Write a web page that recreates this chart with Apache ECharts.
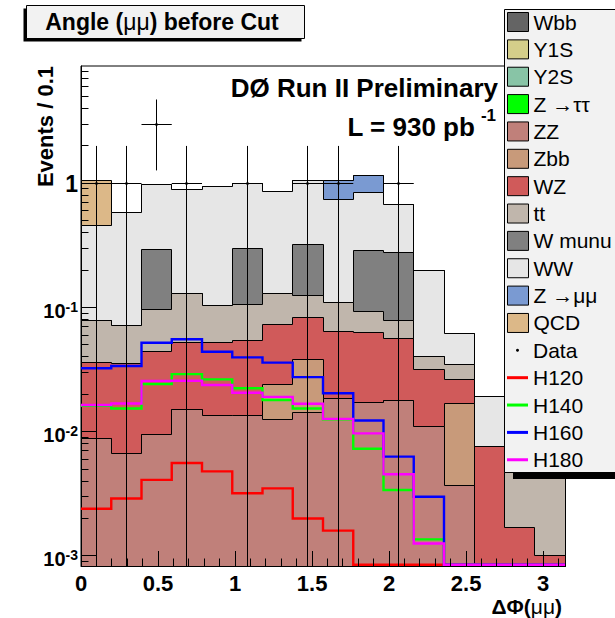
<!DOCTYPE html>
<html>
<head>
<meta charset="utf-8">
<script src="https://cdn.jsdelivr.net/npm/echarts@6/dist/echarts.min.js"></script>
<style>
  html, body { margin: 0; padding: 0; background: #ffffff; }
  #chart { width: 615px; height: 618px; }
</style>
</head>
<body>
<div id="chart"></div>
<script>
// ---- binning: 16 bins of width pi/16 on [0, pi] ----
const NBINS = 16;
const X_MAX = Math.PI;
const BIN_W = X_MAX / NBINS;
const Y_MIN = 0.00083;
const Y_MAX = 8.8;

// ---- background yields per bin (stacked bottom -> top) ----
const wbb     = [0, 0, 0, 0, 0, 0, 0, 0, 0, 0, 0, 0, 0, 0, 0, 0];
const y1s     = [0, 0, 0, 0, 0, 0, 0, 0, 0, 0, 0, 0, 0, 0, 0, 0];
const y2s     = [0, 0, 0, 0, 0, 0, 0, 0, 0, 0, 0, 0, 0, 0, 0, 0];
const ztautau = [0, 0, 0, 0, 0, 0, 0, 0, 0, 0, 0, 0, 0, 0, 0, 0];
const zz      = [0.0089, 0.0067, 0.0095, 0.0152, 0.0135, 0.0135, 0.0126, 0.0142, 0.0186, 0.0171, 0.0177, 0.0111, 0.0037, 0, 0, 0];
const zbb     = [0, 0, 0, 0, 0, 0, 0.0112, 0.0241, 0, 0, 0, 0, 0.0132, 0, 0, 0];
const wz      = [0.0273, 0.0290, 0.0346, 0.0369, 0.0386, 0.0412, 0.0498, 0.0451, 0.0452, 0.0457, 0.0388, 0.0207, 0.0095, 0.0076, 0.0017, 0.0010];
const ttbar   = [0.0423, 0.0355, 0.0526, 0.0779, 0.0513, 0.0503, 0.0564, 0.0426, 0.0452, 0.0297, 0.0218, 0.0084, 0.0085, 0, 0.0038, 0.0040];
const wmunu   = [0, 0, 0.197, 0, 0, 0.195, 0, 0.193, 0, 0.1945, 0.200, 0, 0, 0, 0, 0];
const ww      = [0.380, 0.513, 0.680, 0.765, 0.831, 0.700, 0.726, 0.731, 0.634, 0.559, 0.400, 0.158, 0.027, 0.0115, 0.0025, 0.0015];
const zmumu   = [0, 0, 0, 0, 0, 0, 0, 0, 0.307, 0.305, 0, 0, 0, 0, 0, 0];
const qcd     = [0.592, 0, 0, 0, 0, 0, 0, 0, 0, 0, 0, 0, 0, 0, 0, 0];

// ---- observed data and its errors ----
const dataVals = [1, 1, 3, 1, 0, 1, 0, 1, 1, 0, 1, 0, 0, 0, 0, 0];
const dataErr  = [1, 1, 1.73, 1, 0, 1, 0, 1, 1, 0, 1, 0, 0, 0, 0, 0];

// ---- Higgs signal expectations ----
const h120 = [0.0024, 0.0029, 0.0041, 0.0056, 0.0048, 0.0032, 0.0035, 0.0020, 0.0016, 0, 0, 0, 0, 0, 0, 0];
const h140 = [0.0162, 0.0154, 0.0242, 0.0291, 0.0264, 0.0224, 0.0180, 0.0154, 0.0126, 0.0073, 0.0034, 0.00136, 0, 0, 0, 0];
const h160 = [0.0324, 0.0338, 0.0521, 0.0555, 0.0441, 0.0397, 0.0360, 0.0275, 0.0204, 0.0123, 0.0063, 0.0030, 0, 0, 0, 0];
const h180 = [0.0164, 0.0169, 0.0256, 0.0257, 0.0238, 0.0206, 0.0191, 0.0168, 0.0127, 0.0097, 0.00455, 0.00126, 0, 0, 0, 0];

// ---- names, colours, tick labels ----
const stackNames  = ['Wbb', 'Y1S', 'Y2S', 'Z \u2192\u03c4\u03c4', 'ZZ', 'Zbb', 'WZ', 'tt', 'W munu', 'WW', 'Z \u2192\u03bc\u03bc', 'QCD'];
const stackColors = ['#646464', '#d4ce8a', '#88c4a6', '#00ff00', '#c0807a', '#c89a7a', '#d05a5a', '#c0b6ac', '#808080', '#e6e6e6', '#7a9ad2', '#dcb888'];
const higgsNames  = ['H120', 'H140', 'H160', 'H180'];
const higgsColors = ['#ff0000', '#00ff00', '#0000ff', '#ff00ff'];
const xTickLabels = ['0', '0.5', '1', '1.5', '2', '2.5', '3'];
const yTickLabels = {'-3': '{b|10}{s|-3}', '-2': '{b|10}{s|-2}', '-1': '{b|10}{s|-1}', '0': '{one|1}'};

const FONT = '"Liberation Sans", Arial, Helvetica, sans-serif';

const layers = [wbb, y1s, y2s, ztautau, zz, zbb, wz, ttbar, wmunu, ww, zmumu, qcd];
const higgs = [h120, h140, h160, h180];

// cumulative stack heights
const cum = [];
let running = new Array(NBINS).fill(0);
layers.forEach(arr => {
  running = running.map((s, i) => s + arr[i]);
  cum.push(running.slice());
});

const crisp = v => Math.round(v - 0.5) + 0.5;

// one filled step polygon per stack layer, from the axis floor to its cumulative top
function stackSeries(k) {
  return {
    type: 'custom',
    name: stackNames[k],
    coordinateSystem: 'cartesian2d',
    data: [[0, 1]],
    itemStyle: { color: stackColors[k] },
    z: 2,
    silent: true,
    renderItem: function (params, api) {
      const top = cum[k];
      const pts = [];
      const p0 = api.coord([0, Y_MIN]);
      pts.push([crisp(p0[0]), crisp(p0[1])]);
      top.forEach((v, i) => {
        const y = Math.max(v, Y_MIN);
        const a = api.coord([i * BIN_W, y]);
        const b = api.coord([(i + 1) * BIN_W, y]);
        pts.push([crisp(a[0]), crisp(a[1])], [crisp(b[0]), crisp(b[1])]);
      });
      const pe = api.coord([X_MAX, Y_MIN]);
      pts.push([crisp(pe[0]), crisp(pe[1])]);
      return {
        type: 'polygon',
        shape: { points: pts },
        style: { fill: stackColors[k], stroke: '#000000', lineWidth: 1 }
      };
    }
  };
}

// step outline for a signal expectation
function higgsSeries(j) {
  const vals = higgs[j];
  return {
    type: 'custom',
    name: higgsNames[j],
    coordinateSystem: 'cartesian2d',
    data: [[0, 1]],
    itemStyle: { color: higgsColors[j] },
    z: 3,
    silent: true,
    renderItem: function (params, api) {
      const floor = api.coord([0, Y_MIN])[1] - 1.2;
      const pts = [];
      vals.forEach((v, i) => {
        const y = v > 0 ? v : Y_MIN;
        const a = api.coord([i * BIN_W, y]);
        const b = api.coord([(i + 1) * BIN_W, y]);
        a[1] = Math.min(a[1], floor);
        b[1] = Math.min(b[1], floor);
        pts.push(a, b);
      });
      return {
        type: 'polyline',
        shape: { points: pts },
        style: { stroke: higgsColors[j], lineWidth: 2.4, fill: null }
      };
    }
  };
}

// data points with x and y error bars
const dataSeries = {
  type: 'custom',
  name: 'Data',
  coordinateSystem: 'cartesian2d',
  data: dataVals.map((v, i) => [(i + 0.5) * BIN_W, v, dataErr[i]]),
  itemStyle: { color: '#000000' },
  z: 4,
  silent: true,
  renderItem: function (params, api) {
    const x = api.value(0), v = api.value(1), e = api.value(2);
    if (!(v > 0)) return null;
    const c = api.coord([x, v]);
    const hi = api.coord([x, v + e]);
    const lo = api.coord([x, Math.max(v - e, Y_MIN)]);
    const l = api.coord([x - BIN_W / 2, v]);
    const r = api.coord([x + BIN_W / 2, v]);
    const cx = crisp(c[0]), cy = crisp(c[1]);
    return {
      type: 'group',
      children: [
        { type: 'line', shape: { x1: cx, y1: hi[1], x2: cx, y2: lo[1] }, style: { stroke: '#000', lineWidth: 1 } },
        { type: 'line', shape: { x1: l[0], y1: cy, x2: r[0], y2: cy }, style: { stroke: '#000', lineWidth: 1 } },
        { type: 'circle', shape: { cx: cx, cy: cy, r: 1.4 }, style: { fill: '#000' } }
      ]
    };
  }
};

// tick marks drawn inside the frame: decades long, 2..9 short on y; 0.5 long, 0.1 short on x
const yTicks = [];
for (let e = -4; e <= 0; e++) {
  for (let m = 1; m <= 9; m++) {
    const v = m * Math.pow(10, e);
    if (v >= Y_MIN && v <= Y_MAX) yTicks.push([0, v, m === 1 ? 15 : 7.5]);
  }
}
const xTicks = [];
for (let t = 0; t <= 31; t++) {
  xTicks.push([t / 10, Y_MIN, t % 5 === 0 ? 15 : 7.5]);
}

const yTickSeries = {
  type: 'custom', coordinateSystem: 'cartesian2d', data: yTicks, z: 6, silent: true,
  renderItem: function (params, api) {
    const p = api.coord([0, api.value(1)]);
    const y = crisp(p[1]);
    return { type: 'line', shape: { x1: p[0], y1: y, x2: p[0] + api.value(2), y2: y }, style: { stroke: '#000', lineWidth: 1 } };
  }
};
const xTickSeries = {
  type: 'custom', coordinateSystem: 'cartesian2d', data: xTicks, z: 6, silent: true,
  renderItem: function (params, api) {
    const p = api.coord([api.value(0), Y_MIN]);
    const x = crisp(p[0]);
    return { type: 'line', shape: { x1: x, y1: p[1], x2: x, y2: p[1] - api.value(2) }, style: { stroke: '#000', lineWidth: 1 } };
  }
};

// series: upper stack layers first so lower layers paint over them
const series = [];
for (let k = layers.length - 1; k >= 0; k--) series.push(stackSeries(k));
for (let j = 0; j < higgs.length; j++) series.push(higgsSeries(j));
series.push(dataSeries, yTickSeries, xTickSeries);

// legend rows: centre of the first row and the row pitch
const LEG_LEFT = 507;
const LEG_STEP = 27.36;
const LEG_FIRST = 22;
const LEG_FONT = 21;             // each row is as tall as one line of text
const LEG_GAP = LEG_STEP - LEG_FONT;
const rowTop = i => LEG_FIRST + i * LEG_STEP - LEG_FONT / 2;
const legendText = { fontSize: LEG_FONT, color: '#000', fontFamily: FONT };

const option = {
  animation: false,
  backgroundColor: '#ffffff',
  textStyle: { fontFamily: FONT },
  grid: {
    left: 81, right: 50, top: 66, bottom: 52,
    show: true, borderColor: '#000', borderWidth: 1, backgroundColor: 'transparent',
    containLabel: false, outerBoundsMode: 'none'
  },
  xAxis: {
    type: 'value', min: 0, max: X_MAX, interval: 0.5,
    axisLine: { show: true, lineStyle: { color: '#000', width: 1 } },
    axisTick: { show: false }, splitLine: { show: false },
    axisLabel: {
      margin: 6, color: '#000', fontSize: 22, fontWeight: 'bold', fontFamily: FONT,
      formatter: function (v) {
        const idx = Math.round(v / 0.5);
        if (Math.abs(v - idx * 0.5) > 1e-6) return '';
        return xTickLabels[idx] || '';
      }
    }
  },
  yAxis: {
    type: 'log', logBase: 10, min: Y_MIN, max: Y_MAX,
    axisLine: { show: true, lineStyle: { color: '#000', width: 1 } },
    axisTick: { show: false }, splitLine: { show: false },
    axisLabel: {
      margin: 3, color: '#000', fontFamily: FONT, padding: [7, 0, 0, 0],
      formatter: function (v) {
        const lg = Math.log10(v);
        const e = Math.round(lg);
        if (Math.abs(lg - e) > 1e-6) return '';
        return yTickLabels[String(e)] || '';
      },
      rich: {
        one: { fontSize: 23, fontWeight: 'bold', color: '#000', fontFamily: FONT, lineHeight: 22, padding: [0, 0, 6, 0] },
        b: { fontSize: 20, fontWeight: 'bold', color: '#000', fontFamily: FONT, lineHeight: 22 },
        s: { fontSize: 14, fontWeight: 'bold', color: '#000', fontFamily: FONT, verticalAlign: 'top' }
      }
    }
  },
  legend: [
    {
      orient: 'vertical', left: LEG_LEFT, top: rowTop(0), padding: 0,
      itemWidth: 21, itemHeight: 19, itemGap: LEG_GAP,
      selectedMode: false, z: 20, textStyle: legendText,
      data: stackNames.map((n, k) => ({
        name: n, icon: 'rect',
        itemStyle: { color: stackColors[k], borderColor: '#000', borderWidth: 1 }
      }))
    },
    {
      orient: 'vertical', left: LEG_LEFT + 9, top: rowTop(12), padding: 0,
      itemWidth: 3, itemHeight: 3, itemGap: LEG_GAP,
      selectedMode: false, z: 20,
      textStyle: Object.assign({}, legendText, { padding: [0, 0, 0, 9] }),
      data: [{ name: 'Data', icon: 'circle', itemStyle: { color: '#000', borderWidth: 0 } }]
    },
    {
      orient: 'vertical', left: LEG_LEFT, top: rowTop(13), padding: 0,
      itemWidth: 21, itemHeight: 3, itemGap: LEG_GAP,
      selectedMode: false, z: 20, textStyle: legendText,
      data: higgsNames.map((n, j) => ({ name: n, icon: 'rect', itemStyle: { color: higgsColors[j], borderWidth: 0 } }))
    }
  ],
  graphic: [
    // legend panel with its drop shadow
    { type: 'rect', z: 10, silent: true, shape: { x: 513, y: 16, width: 120, height: 463 }, style: { fill: '#000' } },
    { type: 'rect', z: 11, silent: true, shape: { x: 504.5, y: 9.5, width: 120, height: 463 }, style: { fill: '#f2f2f2', stroke: '#000', lineWidth: 1 } },
    // title box with shadow
    { type: 'rect', z: 10, silent: true, shape: { x: 23.5, y: 8.5, width: 278, height: 33 }, style: { fill: '#000' } },
    { type: 'rect', z: 11, silent: true, shape: { x: 26.5, y: 5.5, width: 278, height: 33 }, style: { fill: '#f2f2f2', stroke: '#000', lineWidth: 1 } },
    {
      type: 'text', z: 12, silent: true,
      style: {
        x: 162, y: 22, align: 'center', verticalAlign: 'middle',
        text: '{b|Angle (}{m|\u03bc\u03bc}{b|) before Cut}',
        rich: {
          b: { fontSize: 23, fontWeight: 'bold', fontFamily: FONT, fill: '#000' },
          m: { fontSize: 23, fontWeight: 'normal', fontFamily: FONT, fill: '#000' }
        }
      }
    },
    {
      type: 'text', z: 12, silent: true,
      style: { x: 498, y: 88, align: 'right', verticalAlign: 'middle', text: 'D\u00d8 Run II Preliminary', font: 'bold 26px ' + FONT, fill: '#000' }
    },
    {
      type: 'text', z: 12, silent: true,
      style: {
        x: 496, y: 123.5, align: 'right', verticalAlign: 'middle',
        text: '{a|L = 930 pb}{s|-1}',
        rich: {
          a: { fontSize: 26, fontWeight: 'bold', fontFamily: FONT, fill: '#000', lineHeight: 33, verticalAlign: 'bottom' },
          s: { fontSize: 17, fontWeight: 'bold', fontFamily: FONT, fill: '#000', verticalAlign: 'top', padding: [0, 0, 0, 6] }
        }
      }
    },
    {
      type: 'text', z: 12, silent: true, x: 45, y: 66, rotation: Math.PI / 2,
      style: { x: 0, y: 0, align: 'right', verticalAlign: 'middle', text: 'Events / 0.1', font: 'bold 22px ' + FONT, fill: '#000' }
    },
    {
      type: 'text', z: 12, silent: true,
      style: {
        x: 562, y: 606, align: 'right', verticalAlign: 'middle',
        text: '{b|\u0394\u03a6(}{m|\u03bc\u03bc}{b|)}',
        rich: {
          b: { fontSize: 21, fontWeight: 'bold', fontFamily: FONT, fill: '#000' },
          m: { fontSize: 21, fontWeight: 'normal', fontFamily: FONT, fill: '#000' }
        }
      }
    }
  ],
  series: series
};

const chart = echarts.init(document.getElementById('chart'), null, { renderer: 'svg' });
chart.setOption(option);
</script>
</body>
</html>
